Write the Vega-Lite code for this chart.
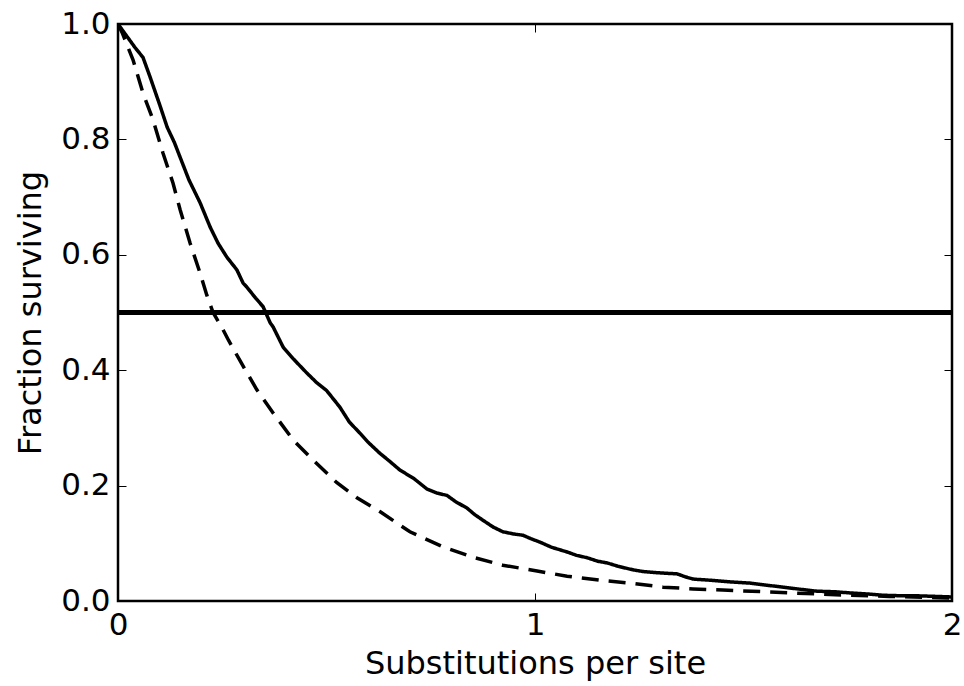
{
  "$schema": "https://vega.github.io/schema/vega-lite/v6.json",
  "width": 834,
  "height": 577,
  "autosize": {"type": "none"},
  "padding": {"left": 118, "top": 24, "right": 12, "bottom": 85},
  "background": "white",
  "config": {
    "view": {"stroke": "black", "strokeWidth": 2.5},
    "font": "DejaVu Sans",
    "axis": {
      "domain": false,
      "grid": false,
      "ticks": true,
      "tickSize": -8,
      "tickColor": "black",
      "tickWidth": 1,
      "labelFont": "DejaVu Sans",
      "labelFontSize": 31,
      "labelColor": "black",
      "labelOverlap": false,
      "titleFont": "DejaVu Sans",
      "titleFontSize": 32,
      "titleFontWeight": "normal",
      "titleColor": "black"
    }
  },
  "data": {
    "values": [
      {"subs": 0.0, "frac": 1.0, "series": "observed"},
      {"subs": 0.005, "frac": 0.995, "series": "observed"},
      {"subs": 0.02, "frac": 0.98, "series": "observed"},
      {"subs": 0.04, "frac": 0.96, "series": "observed"},
      {"subs": 0.06, "frac": 0.942, "series": "observed"},
      {"subs": 0.077, "frac": 0.908, "series": "observed"},
      {"subs": 0.1, "frac": 0.86, "series": "observed"},
      {"subs": 0.118, "frac": 0.821, "series": "observed"},
      {"subs": 0.135, "frac": 0.795, "series": "observed"},
      {"subs": 0.149, "frac": 0.769, "series": "observed"},
      {"subs": 0.17, "frac": 0.73, "series": "observed"},
      {"subs": 0.197, "frac": 0.69, "series": "observed"},
      {"subs": 0.221, "frac": 0.648, "series": "observed"},
      {"subs": 0.24, "frac": 0.62, "series": "observed"},
      {"subs": 0.261, "frac": 0.596, "series": "observed"},
      {"subs": 0.285, "frac": 0.574, "series": "observed"},
      {"subs": 0.3, "frac": 0.551, "series": "observed"},
      {"subs": 0.309, "frac": 0.544, "series": "observed"},
      {"subs": 0.33, "frac": 0.525, "series": "observed"},
      {"subs": 0.348, "frac": 0.51, "series": "observed"},
      {"subs": 0.365, "frac": 0.482, "series": "observed"},
      {"subs": 0.372, "frac": 0.475, "series": "observed"},
      {"subs": 0.396, "frac": 0.44, "series": "observed"},
      {"subs": 0.42, "frac": 0.42, "series": "observed"},
      {"subs": 0.453, "frac": 0.395, "series": "observed"},
      {"subs": 0.477, "frac": 0.378, "series": "observed"},
      {"subs": 0.5, "frac": 0.365, "series": "observed"},
      {"subs": 0.532, "frac": 0.336, "series": "observed"},
      {"subs": 0.555, "frac": 0.31, "series": "observed"},
      {"subs": 0.58, "frac": 0.291, "series": "observed"},
      {"subs": 0.6, "frac": 0.275, "series": "observed"},
      {"subs": 0.628, "frac": 0.256, "series": "observed"},
      {"subs": 0.65, "frac": 0.243, "series": "observed"},
      {"subs": 0.676, "frac": 0.227, "series": "observed"},
      {"subs": 0.71, "frac": 0.212, "series": "observed"},
      {"subs": 0.741, "frac": 0.194, "series": "observed"},
      {"subs": 0.765, "frac": 0.187, "series": "observed"},
      {"subs": 0.789, "frac": 0.183, "series": "observed"},
      {"subs": 0.81, "frac": 0.172, "series": "observed"},
      {"subs": 0.837, "frac": 0.161, "series": "observed"},
      {"subs": 0.855, "frac": 0.15, "series": "observed"},
      {"subs": 0.875, "frac": 0.14, "series": "observed"},
      {"subs": 0.9, "frac": 0.128, "series": "observed"},
      {"subs": 0.923, "frac": 0.12, "series": "observed"},
      {"subs": 0.95, "frac": 0.116, "series": "observed"},
      {"subs": 0.971, "frac": 0.114, "series": "observed"},
      {"subs": 0.99, "frac": 0.108, "series": "observed"},
      {"subs": 1.012, "frac": 0.102, "series": "observed"},
      {"subs": 1.04, "frac": 0.093, "series": "observed"},
      {"subs": 1.077, "frac": 0.085, "series": "observed"},
      {"subs": 1.1, "frac": 0.079, "series": "observed"},
      {"subs": 1.125, "frac": 0.075, "series": "observed"},
      {"subs": 1.15, "frac": 0.069, "series": "observed"},
      {"subs": 1.173, "frac": 0.066, "series": "observed"},
      {"subs": 1.2, "frac": 0.06, "series": "observed"},
      {"subs": 1.235, "frac": 0.054, "series": "observed"},
      {"subs": 1.26, "frac": 0.051, "series": "observed"},
      {"subs": 1.293, "frac": 0.049, "series": "observed"},
      {"subs": 1.341, "frac": 0.047, "series": "observed"},
      {"subs": 1.36, "frac": 0.042, "series": "observed"},
      {"subs": 1.379, "frac": 0.038, "series": "observed"},
      {"subs": 1.42, "frac": 0.036, "series": "observed"},
      {"subs": 1.47, "frac": 0.033, "series": "observed"},
      {"subs": 1.516, "frac": 0.031, "series": "observed"},
      {"subs": 1.56, "frac": 0.027, "series": "observed"},
      {"subs": 1.595, "frac": 0.024, "series": "observed"},
      {"subs": 1.64, "frac": 0.02, "series": "observed"},
      {"subs": 1.676, "frac": 0.017, "series": "observed"},
      {"subs": 1.72, "frac": 0.016, "series": "observed"},
      {"subs": 1.755, "frac": 0.014, "series": "observed"},
      {"subs": 1.8, "frac": 0.012, "series": "observed"},
      {"subs": 1.835, "frac": 0.01, "series": "observed"},
      {"subs": 1.88, "frac": 0.009, "series": "observed"},
      {"subs": 1.916, "frac": 0.009, "series": "observed"},
      {"subs": 1.96, "frac": 0.008, "series": "observed"},
      {"subs": 2.0, "frac": 0.007, "series": "observed"},
      {"subs": 0.0, "frac": 1.0, "series": "expected"},
      {"subs": 0.01, "frac": 0.985, "series": "expected"},
      {"subs": 0.036, "frac": 0.938, "series": "expected"},
      {"subs": 0.06, "frac": 0.88, "series": "expected"},
      {"subs": 0.084, "frac": 0.834, "series": "expected"},
      {"subs": 0.108, "frac": 0.776, "series": "expected"},
      {"subs": 0.132, "frac": 0.724, "series": "expected"},
      {"subs": 0.149, "frac": 0.678, "series": "expected"},
      {"subs": 0.173, "frac": 0.62, "series": "expected"},
      {"subs": 0.197, "frac": 0.568, "series": "expected"},
      {"subs": 0.213, "frac": 0.53, "series": "expected"},
      {"subs": 0.228, "frac": 0.5, "series": "expected"},
      {"subs": 0.252, "frac": 0.47, "series": "expected"},
      {"subs": 0.265, "frac": 0.452, "series": "expected"},
      {"subs": 0.293, "frac": 0.416, "series": "expected"},
      {"subs": 0.333, "frac": 0.366, "series": "expected"},
      {"subs": 0.372, "frac": 0.326, "series": "expected"},
      {"subs": 0.42, "frac": 0.279, "series": "expected"},
      {"subs": 0.468, "frac": 0.244, "series": "expected"},
      {"subs": 0.525, "frac": 0.205, "series": "expected"},
      {"subs": 0.573, "frac": 0.179, "series": "expected"},
      {"subs": 0.628, "frac": 0.155, "series": "expected"},
      {"subs": 0.7, "frac": 0.12, "series": "expected"},
      {"subs": 0.779, "frac": 0.094, "series": "expected"},
      {"subs": 0.851, "frac": 0.076, "series": "expected"},
      {"subs": 0.923, "frac": 0.062, "series": "expected"},
      {"subs": 1.005, "frac": 0.052, "series": "expected"},
      {"subs": 1.077, "frac": 0.043, "series": "expected"},
      {"subs": 1.156, "frac": 0.036, "series": "expected"},
      {"subs": 1.228, "frac": 0.031, "series": "expected"},
      {"subs": 1.307, "frac": 0.024, "series": "expected"},
      {"subs": 1.379, "frac": 0.021, "series": "expected"},
      {"subs": 1.45, "frac": 0.019, "series": "expected"},
      {"subs": 1.55, "frac": 0.016, "series": "expected"},
      {"subs": 1.65, "frac": 0.013, "series": "expected"},
      {"subs": 1.75, "frac": 0.01, "series": "expected"},
      {"subs": 1.85, "frac": 0.008, "series": "expected"},
      {"subs": 2.0, "frac": 0.005, "series": "expected"}
    ]
  },
  "layer": [
    {
      "mark": {"type": "line", "opacity": 0},
      "encoding": {
        "x": {
          "field": "subs",
          "type": "quantitative",
          "scale": {"domain": [0, 2], "nice": false, "zero": false},
          "axis": {"orient": "bottom", "values": [0, 1, 2], "tickCount": 3, "format": ".0f", "labelFlush": false, "title": "Substitutions per site", "labelPadding": 17, "titlePadding": 8, "labelOverlap": false}
        },
        "y": {
          "field": "frac",
          "type": "quantitative",
          "scale": {"domain": [0, 1], "nice": false},
          "axis": {"orient": "left", "values": [0, 0.2, 0.4, 0.6, 0.8, 1.0], "format": ".1f", "title": "Fraction surviving", "labelPadding": 16, "titlePadding": 13, "labelOverlap": false}
        },
        "detail": {"field": "series"}
      }
    },
    {
      "mark": {"type": "line", "strokeWidth": 3.5, "color": "black", "clip": true},
      "encoding": {
        "x": {
          "field": "subs",
          "type": "quantitative",
          "axis": {"orient": "top", "values": [0, 1, 2], "labels": false, "title": null}
        },
        "y": {
          "field": "frac",
          "type": "quantitative",
          "axis": {"orient": "right", "values": [0, 0.2, 0.4, 0.6, 0.8, 1.0], "labels": false, "title": null}
        },
        "strokeDash": {
          "field": "series",
          "type": "nominal",
          "scale": {"domain": ["observed", "expected"], "range": [[1, 0], [17, 10]]},
          "legend": null
        }
      }
    },
    {
      "mark": {"type": "rule", "strokeWidth": 4, "color": "black"},
      "encoding": {
        "y": {"datum": 0.5, "type": "quantitative", "axis": null}
      }
    }
  ],
  "resolve": {"axis": {"x": "independent", "y": "independent"}}
}
